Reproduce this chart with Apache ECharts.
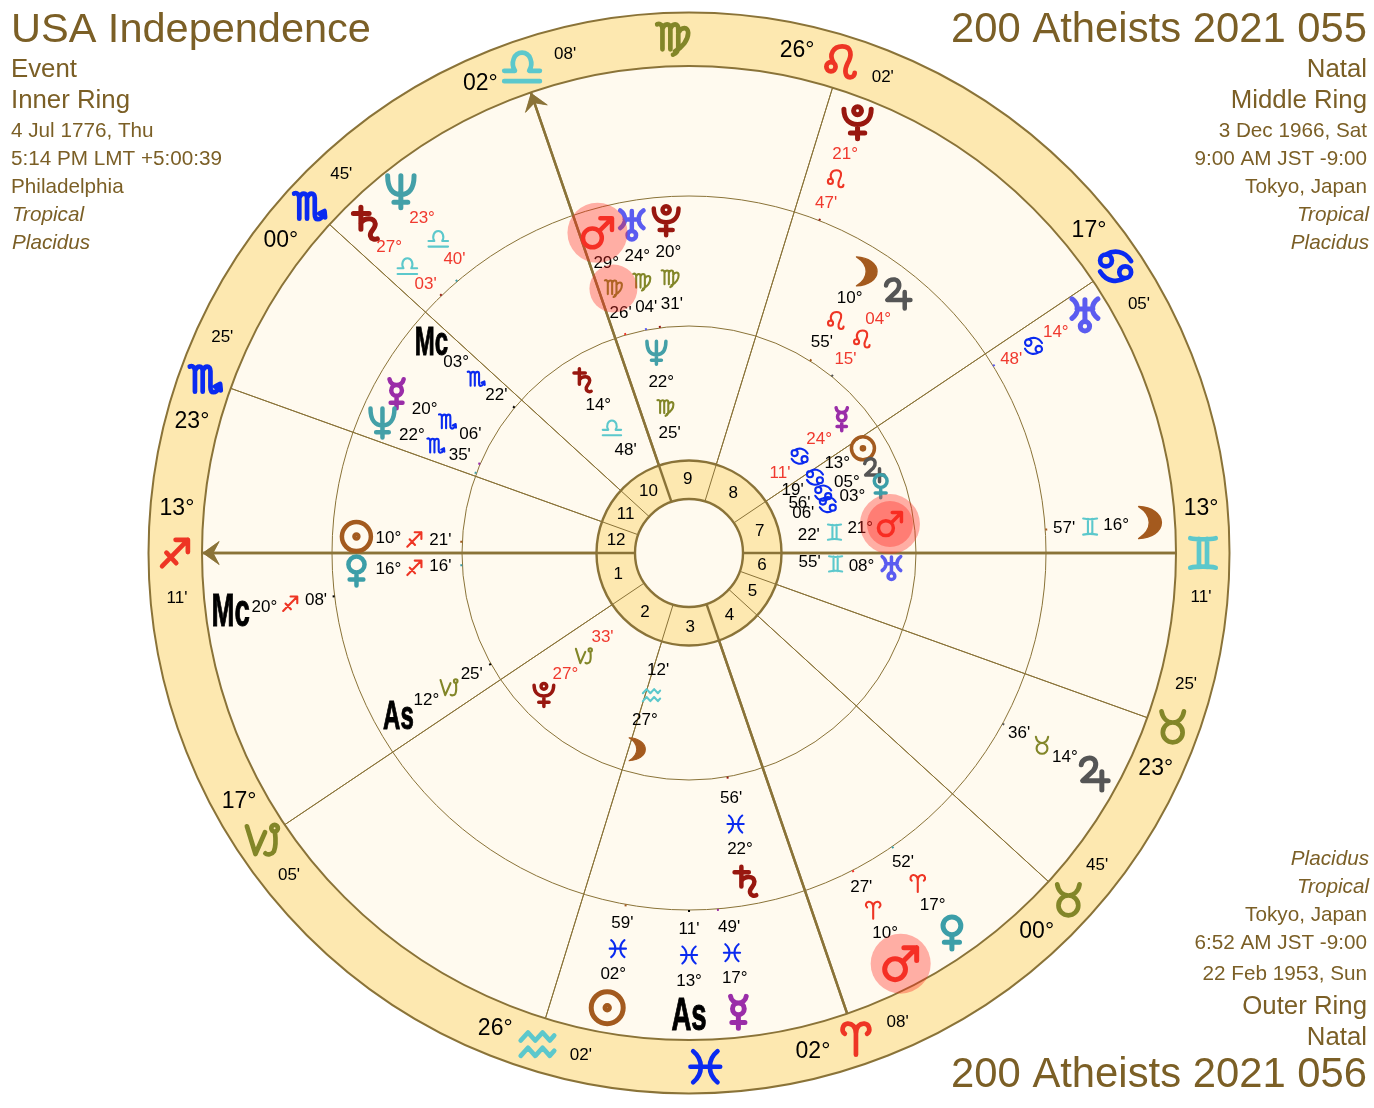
<!DOCTYPE html>
<html><head><meta charset="utf-8"><style>html,body{margin:0;padding:0;background:#fff}#c{width:1374px;height:1108px}</style>
<script src="https://cdn.jsdelivr.net/npm/echarts@6/dist/echarts.min.js"></script></head>
<body><div id="c"></div><script>
// ---------- data: text blocks ----------
const titleLeft=['USA Independence'];
const infoLeft=['Event','Inner Ring','4 Jul 1776, Thu','5:14 PM LMT +5:00:39','Philadelphia','Tropical','Placidus'];
const titleRight=['200 Atheists 2021 055'];
const infoRight=['Natal','Middle Ring','3 Dec 1966, Sat','9:00 AM JST -9:00','Tokyo, Japan','Tropical','Placidus'];
const infoBottom=['Placidus','Tropical','Tokyo, Japan','6:52 AM JST -9:00','22 Feb 1953, Sun','Outer Ring','Natal'];
const titleBottom=['200 Atheists 2021 056'];
// ---------- data: house cusps (cusp 1..12) ----------
const cuspSigns=['sagittarius','capricorn','aquarius','aries','taurus','taurus','gemini','cancer','leo','libra','scorpio','scorpio'];
const cuspDegrees=[13,17,26,2,0,23,13,17,26,2,0,23];
const cuspMinutes=[11,5,2,8,45,25,11,5,2,8,45,25];
const houseNumbers=[1,2,3,4,5,6,7,8,9,10,11,12];
const signNames=['aries','taurus','gemini','cancer','leo','virgo','libra','scorpio','sagittarius','capricorn','aquarius','pisces'];
// ---------- data: three rings of bodies ----------
const outerBodies=['moon','jupiter','venus','mars','mercury','as','sun','mc','neptune','saturn','pluto','uranus'];
const outerSigns=['gemini','taurus','aries','aries','pisces','pisces','pisces','sagittarius','libra','libra','leo','cancer'];
const outerDegrees=[16,14,17,10,17,13,2,20,23,27,21,14];
const outerMinutes=[57,36,52,27,49,11,59,8,40,3,47,48];
const outerRetro=['neptune','saturn','pluto','uranus'];
const middleBodies=['moon','jupiter','mercury','neptune','mc','mars','uranus','pluto','as','sun','venus','saturn'];
const middleSigns=['leo','leo','scorpio','scorpio','scorpio','virgo','virgo','virgo','capricorn','sagittarius','sagittarius','pisces'];
const middleDegrees=[10,4,20,22,3,29,24,20,12,10,16,22];
const middleMinutes=[55,15,6,35,22,26,4,31,25,21,16,56];
const middleRetro=['jupiter'];
const innerBodies=['neptune','saturn','pluto','moon','mercury','sun','jupiter','venus','mars','uranus'];
const innerSigns=['virgo','libra','capricorn','aquarius','cancer','cancer','cancer','cancer','gemini','gemini'];
const innerDegrees=[22,14,27,27,24,13,5,3,21,8];
const innerMinutes=[25,48,33,12,11,19,56,6,22,55];
const innerRetro=['pluto','mercury'];

// ---------- styling / layout (not data) ----------
const BROWN='#7b5f26', LINE='#8a7338', BAND='#fde8b0', CREAM='#fffaef', RED='#f0392e';
const FONT='"Liberation Sans",Arial,sans-serif';
const FIRE='#ee3524', EARTH='#828628', AIR='#5cc8cc', WATER='#0a2af0';
const colors={moon:'#a45a1e',sun:'#a35a1e',jupiter:'#555555',saturn:'#98170f',pluto:'#98170f',uranus:'#5b5cf0',neptune:'#44a0a8',venus:'#3c9ea8',mars:'#f0352a',mercury:'#9a2da8',mc:'#000',as:'#000',
 aries:FIRE,leo:FIRE,sagittarius:FIRE,taurus:EARTH,virgo:EARTH,capricorn:EARTH,gemini:AIR,libra:AIR,aquarius:AIR,cancer:WATER,scorpio:WATER,pisces:WATER};
const C=(x,y,r)=>`M${x-r} ${y}A${r} ${r} 0 1 1 ${x+r} ${y}A${r} ${r} 0 1 1 ${x-r} ${y}Z`;
const glyphs={
 mars:C(36,64,26)+'M55 45L90 10M58 10H90V42',
 venus:C(50,30,27)+'M50 57V100M27 80H73',
 mercury:C(50,40,18)+'M50 58V100M30 82H70M26 2C28 14 38 22 50 22C62 22 72 14 74 2',
 sun:C(50,50,44)+C(50,50,6)+C(50,50,2),
 moon:'M8 2C48 4 76 24 76 50C76 76 48 96 8 98C30 84 40 68 40 50C40 32 30 16 8 2Z',
 jupiter:'M14 24C16 8 32 2 44 4C60 8 62 28 50 42L18 72H95M76 45V100',
 saturn:'M10 20H56M32 2V66M32 48C42 32 72 30 74 50C75 66 56 72 60 86C62 94 72 98 80 94',
 uranus:'M14 4C34 18 34 44 14 58M86 4C66 18 66 44 86 58M28 32H72M50 6V66'+C(50,80,13),
 neptune:'M12 4C12 42 28 58 50 58C72 58 88 42 88 4M50 4V96M30 80H70',
 pluto:C(50,22,11)+'M12 18C12 48 30 60 50 60C70 60 88 48 88 18M50 60V100M30 84H70',
 aries:'M50 100V36C50 14 38 4 24 5C8 7 4 28 16 36M50 36C50 14 62 4 76 5C92 7 96 28 84 36',
 taurus:C(50,66,30)+'M16 2C20 24 34 36 50 36C66 36 80 24 84 2',
 gemini:'M12 6C30 10 70 10 88 6M12 94C30 90 70 90 88 94M38 8V92M62 8V92',
 cancer:C(24,34,16)+'M24 18C44 6 74 6 92 36'+C(76,66,16)+'M76 82C56 94 26 94 8 64',
 leo:C(20,64,14)+'M28 52C12 26 28 2 54 2C84 2 84 30 70 54C60 74 62 96 78 96C88 96 92 88 92 82',
 virgo:'M4 8C14 4 20 12 20 22V84M20 22C26 4 44 4 44 22V84M44 22C50 4 68 4 68 22V76C68 88 62 96 52 100M68 34C78 14 98 16 98 34C98 56 80 78 58 90',
 libra:'M5 90H95M5 64H32C20 44 30 18 50 18C70 18 80 44 68 64H95',
 scorpio:'M4 8C14 4 20 12 20 22V86M20 22C26 4 44 4 44 22V86M44 22C50 4 68 4 68 22V72C68 92 84 94 98 70M82 70L98 62L100 82',
 sagittarius:'M8 94L92 8M52 8H92V48M22 50L54 84',
 capricorn:'M4 8L30 92L59 26'+C(88,14,10)+'M89 24C92 50 92 70 86 84C80 94 66 96 60 90',
 aquarius:'M4 40L24 18L44 40L64 18L84 40L96 26M4 82L24 60L44 82L64 60L84 82L96 68',
 pisces:'M14 4C44 28 44 72 14 96M86 4C56 28 56 72 86 96M6 50H94'
};
const glyphScale={sagittarius:.85,libra:1.15,aquarius:1.08,gemini:.95,moon:1};
// spread applied to crowded bodies (degrees of longitude)
const outerSpread={mercury:1.5,neptune:-1.9,saturn:0.6,uranus:-0.6,mc:0.3};
const middleSpread={mercury:-5.5,neptune:-2.4,mc:0.5,mars:-0.3,uranus:-1,pluto:-3.4};
const innerSpread={moon:1.2,sun:0.9,jupiter:1.3,venus:-0.7,mercury:0.2};
const pad=n=>String(n).padStart(2,'0');
const lon=(s,d,m)=>signNames.indexOf(s)*30+d+m/60;
const rings=[
 {bodies:outerBodies,signs:outerSigns,deg:outerDegrees,min:outerMinutes,retro:outerRetro,spread:outerSpread,radii:[462,428,402,376],size:32,sw:5,tick:357,ac:1},
 {bodies:middleBodies,signs:middleSigns,deg:middleDegrees,min:middleMinutes,retro:middleRetro,spread:middleSpread,radii:[333,301,275,249],size:29,sw:4.5,tick:227,ac:.88},
 {bodies:innerBodies,signs:innerSigns,deg:innerDegrees,min:innerMinutes,retro:innerRetro,spread:innerSpread,radii:[203,173,147,121],size:23,sw:3.5,tick:0,ac:.7}
];
const marks=[],ticks=[],halos=[];
rings.forEach((R,ri)=>R.bodies.forEach((b,i)=>{
 const t=lon(R.signs[i],R.deg[i],R.min[i]), a=t+(R.spread[b]||0), tc=R.retro.includes(b)?RED:'#000';
 if(b==='mc'||b==='as') marks.push({kind:'label',r:R.radii[0],a,text:b==='mc'?'Mc':'As',ac:R.ac});
 else marks.push({kind:'glyph',r:R.radii[0],a,g:b,size:R.size,sw:R.sw});
 marks.push({kind:'text',r:R.radii[1],a,text:pad(R.deg[i])+'°',color:tc,font:'17px '+FONT});
 marks.push({kind:'glyph',r:R.radii[2],a,g:R.signs[i],size:ri==2?16:17,sw:2.1});
 marks.push({kind:'text',r:R.radii[3],a,text:pad(R.min[i])+"'",color:tc,font:'17px '+FONT});
 if(R.tick) ticks.push({r:R.tick,a:t,color:colors[b]});
 if(b==='mars'){
  halos.push({r:R.radii[0],a,size:30});
  if(ri==1) halos.push({r:R.radii[2],a,size:24});
  if(ri==2) halos.push({r:R.radii[0],a,size:23});
 }
}));
const cusps=cuspSigns.map((s,i)=>lon(s,cuspDegrees[i],cuspMinutes[i]));
cuspSigns.forEach((s,i)=>{
 const dir=i<6?-1:1;
 marks.push({kind:'text',r:514,a:cusps[i]+dir*5,text:pad(cuspDegrees[i])+'°',color:'#000',font:'23px '+FONT});
 marks.push({kind:'glyph',r:514,a:cusps[i],g:s,size:31,sw:4.7});
 marks.push({kind:'text',r:514,a:cusps[i]-dir*5,text:pad(cuspMinutes[i])+"'",color:'#000',font:'17px '+FONT});
});
signNames.forEach((s,i)=>{
 if(!cuspSigns.includes(s)) marks.push({kind:'glyph',r:514,a:i*30+15,g:s,size:31,sw:4.7});
});
houseNumbers.forEach((n,i)=>{
 const c0=cusps[i],c1=cusps[(i+1)%12],span=((c1-c0)%360+360)%360;
 marks.push({kind:'text',r:74,a:c0+span/2,text:String(n),color:'#000',font:'17px '+FONT});
});

function ringItem(params,api){
 const o=api.coord([0,0]),q=api.coord([541,0]);
 const k=Math.hypot(q[0]-o[0],q[1]-o[1])/541,cx=o[0],cy=o[1];
 const circle=(r,fill,stroke,lw)=>({type:'circle',shape:{cx,cy,r:r*k},style:{fill:fill||'none',stroke,lineWidth:lw}});
 return {type:'group',children:[
  circle(540.5,BAND,LINE,2),circle(487,CREAM,LINE,2),circle(357,null,LINE,1),circle(227,null,LINE,1)]};
}
function hubItem(params,api){
 const o=api.coord([0,0]),cx=o[0],cy=o[1];
 return {type:'group',children:[
  {type:'circle',shape:{cx,cy,r:92.5},style:{fill:BAND,stroke:LINE,lineWidth:2.4}},
  {type:'circle',shape:{cx,cy,r:54},style:{fill:CREAM,stroke:LINE,lineWidth:2.4}}]};
}
function cuspItem(params,api){
 const i=params.dataIndex,a=cusps[i],thick=i%3===0;
 const p=api.coord([54,a]),q=api.coord([487,a]);
 const kids=[{type:'line',shape:{x1:p[0],y1:p[1],x2:q[0],y2:q[1]},style:{stroke:LINE,lineWidth:thick?2.4:1,fill:'none'}}];
 if(i===0||i===9){
  const pts=[[486,a],[470,a+1.4],[476,a],[470,a-1.4]].map(v=>api.coord(v));
  kids.push({type:'polygon',shape:{points:pts},style:{fill:LINE,stroke:LINE,lineWidth:.5}});
 }
 return {type:'group',children:kids};
}
function tickItem(params,api){
 const d=ticks[params.dataIndex],p=api.coord([d.r,d.a]),q=api.coord([d.r+2,d.a]);
 return {type:'line',shape:{x1:p[0],y1:p[1],x2:q[0],y2:q[1]},style:{stroke:d.color,lineWidth:2,fill:'none'}};
}
function haloItem(params,api){
 const d=halos[params.dataIndex],p=api.coord([d.r,d.a]);
 return {type:'circle',shape:{cx:p[0],cy:p[1],r:d.size},style:{fill:'rgba(255,40,30,0.36)',stroke:'none'}};
}
function markItem(params,api){
 const d=marks[params.dataIndex],p=api.coord([d.r,d.a]);
 if(d.kind==='text') return {type:'text',x:p[0],y:p[1],style:{text:d.text,fill:d.color,font:d.font,textAlign:'center',textVerticalAlign:'middle'}};
 if(d.kind==='label') return {type:'text',x:p[0],y:p[1]+2,scaleX:.6,style:{text:d.text,fill:'#000',font:`bold ${Math.round(46*d.ac)}px "Liberation Sans Narrow","Liberation Sans"`,textAlign:'center',textVerticalAlign:'middle',stroke:'#000',lineWidth:1}};
 const s=d.size*(glyphScale[d.g]||1),filled=d.g==='moon';
 return {type:'path',shape:{pathData:glyphs[d.g],x:p[0]-s/2,y:p[1]-s/2,width:s,height:s,layout:'center'},
  style:{fill:filled?colors[d.g]:'none',stroke:colors[d.g],lineWidth:filled?d.sw*.3:d.sw,lineCap:'round',lineJoin:'round'}};
}
const custom=(data,renderItem,z)=>({type:'custom',coordinateSystem:'polar',silent:true,z,data,renderItem,encode:{radius:0,angle:1},animation:false,clip:false});
const tx=(text,x,y,size,align,italic)=>({type:'text',x:x+(italic?(align==='right'?2:1):0),y:y+size*.07,silent:true,z:50,style:{text,fill:BROWN,font:`${italic?'italic ':''}${size}px ${FONT}`,textAlign:align,textVerticalAlign:'middle'}});
const infoBlock=(list,x,ys,align,sizes,ital)=>list.map((t,i)=>tx(t,x,ys[i],sizes[i],align,ital[i]));
const topYs=[68,99,130,158,186,214,242], topSz=[25.8,25.8,20.7,20.7,20.7,20.7,20.7], topIt=[0,0,0,0,0,1,1];
const botYs=[858,886,914,942,973,1005,1036], botSz=[20.7,20.7,20.7,20.7,20.7,25.8,25.8], botIt=[1,1,0,0,0,0,0];
const chart=echarts.init(document.getElementById('c'),null,{renderer:'canvas'});
chart.setOption({
 backgroundColor:'#fff',animation:false,
 polar:{center:[689,553],radius:541},
 angleAxis:{type:'value',min:0,max:360,startAngle:286.82,clockwise:false,show:false},
 radiusAxis:{type:'value',min:0,max:541,show:false},
 tooltip:{show:false},
 graphic:[
  tx(titleLeft[0],11,28,41.5,'left'),
  tx(titleRight[0],1367,28,41.8,'right'),
  tx(titleBottom[0],1367,1073,41.8,'right'),
  ...infoBlock(infoLeft,11,topYs,'left',topSz,topIt),
  ...infoBlock(infoRight,1367,topYs,'right',topSz,topIt),
  ...infoBlock(infoBottom,1367,botYs,'right',botSz,botIt)
 ],
 series:[
  custom([[541,0]],ringItem,1),
  custom(cusps.map(c=>[487,c]),cuspItem,2),
  custom([[93,0]],hubItem,3),
  custom(cusps.map(c=>[54,c]),cuspItem,4),
  custom(ticks.map(d=>[d.r,d.a]),tickItem,5),
  custom(marks.map(d=>[d.r,d.a]),markItem,6),
  custom(halos.map(d=>[d.r,d.a]),haloItem,7)
 ]
});
</script></body></html>
